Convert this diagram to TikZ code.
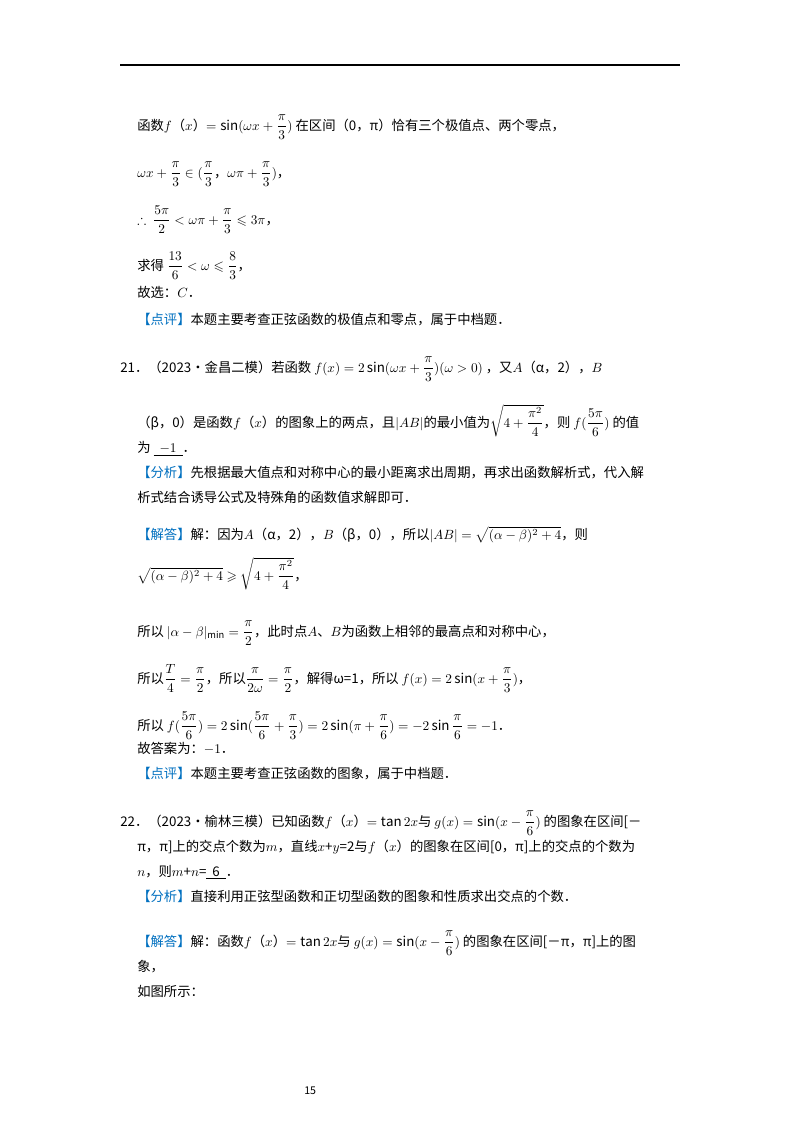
\documentclass[tikz,border=0pt]{standalone}
\usepackage{amsmath,amssymb}
\usepackage{fontspec}
\setmainfont{Noto Sans CJK SC}
\definecolor{tagblue}{RGB}{0,112,192}
\newcommand{\tg}[1]{\textcolor{tagblue}{【#1】}}
\newcommand{\tl}[4]{\node[txt] (#1) at (#2,#3) {#4};}
\begin{document}
\begin{tikzpicture}[x=0.75pt,y=-0.75pt,
  txt/.style={anchor=base west,inner sep=0pt,font=\fontsize{10}{12}\selectfont}]
\useasboundingbox (0,0) rectangle (800,1132);
\fill[white] (0,0) rectangle (800,1132);
\coordinate (r1) at (120,65); \coordinate (r2) at (680,65);
\draw[line width=0.8pt] (r1) -- (r2);
\tl{a1}{137}{130}{函数$f$（$x$）$=\sin(\omega x+\dfrac{\pi}{3})$ 在区间（0，π）恰有三个极值点、两个零点，}
\tl{a2}{137}{177}{$\omega x+\dfrac{\pi}{3}\in(\dfrac{\pi}{3}$，$\omega\pi+\dfrac{\pi}{3})$，}
\tl{a3}{137}{224}{$\therefore\ \dfrac{5\pi}{2}<\omega\pi+\dfrac{\pi}{3}\leqslant 3\pi$，}
\tl{a4}{137}{270}{求得 $\dfrac{13}{6}<\omega\leqslant\dfrac{8}{3}$，}
\tl{a5}{137}{297}{故选：$C$．}
\tl{a6}{137}{324}{\tg{点评}本题主要考查正弦函数的极值点和零点，属于中档题．}
\tl{b1}{120}{372}{21．（2023•金昌二模）若函数 $f(x)=2\sin(\omega x+\dfrac{\pi}{3})(\omega>0)$ ，又$A$（α，2），$B$}
\tl{b2}{137}{427}{（β，0）是函数$f$（$x$）的图象上的两点，且$|AB|$的最小值为$\sqrt{4+\dfrac{\pi^2}{4}}$，则 $f(\dfrac{5\pi}{6})$ 的值}
\tl{b3}{137}{452}{为 \underline{\ \ $-1$\ \ }．}
\tl{b4}{137}{477}{\tg{分析}先根据最大值点和对称中心的最小距离求出周期，再求出函数解析式，代入解}
\tl{b5}{137}{502}{析式结合诱导公式及特殊角的函数值求解即可．}
\tl{b6}{137}{539}{\tg{解答}解：因为$A$（α，2），$B$（β，0），所以$|AB|=\sqrt{(\alpha-\beta)^2+4}$，则}
\tl{b7}{137}{580}{$\sqrt{(\alpha-\beta)^2+4}\geqslant\sqrt{4+\dfrac{\pi^2}{4}}$，}
\tl{b8}{137}{636}{所以 $|\alpha-\beta|_{\min}=\dfrac{\pi}{2}$，此时点$A$、$B$为函数上相邻的最高点和对称中心，}
\tl{b9}{137}{683}{所以$\dfrac{T}{4}=\dfrac{\pi}{2}$，所以$\dfrac{\pi}{2\omega}=\dfrac{\pi}{2}$，解得ω=1，所以 $f(x)=2\sin(x+\dfrac{\pi}{3})$，}
\tl{b10}{137}{730}{所以 $f(\dfrac{5\pi}{6})=2\sin(\dfrac{5\pi}{6}+\dfrac{\pi}{3})=2\sin(\pi+\dfrac{\pi}{6})=-2\sin\dfrac{\pi}{6}=-1$．}
\tl{b11}{137}{753}{故答案为：$-1$．}
\tl{b12}{137}{778}{\tg{点评}本题主要考查正弦函数的图象，属于中档题．}
\tl{c1}{120}{826}{22．（2023•榆林三模）已知函数$f$（$x$）$=\tan2x$与 $g(x)=\sin(x-\dfrac{\pi}{6})$ 的图象在区间[－}
\tl{c2}{137}{851}{π，π]上的交点个数为$m$，直线$x$+$y$=2与$f$（$x$）的图象在区间[0，π]上的交点的个数为}
\tl{c3}{137}{876}{$n$，则$m$+$n$=\underline{\ \ 6\ \ }．}
\tl{c4}{137}{901}{\tg{分析}直接利用正弦型函数和正切型函数的图象和性质求出交点的个数．}
\tl{c5}{137}{946}{\tg{解答}解：函数$f$（$x$）$=\tan2x$与 $g(x)=\sin(x-\dfrac{\pi}{6})$ 的图象在区间[－π，π]上的图}
\tl{c6}{137}{971}{象，}
\tl{c7}{137}{996}{如图所示：}
\node[txt,font=\fontsize{8}{10}\selectfont] (pg) at (304,1094) {15};
\end{tikzpicture}
\end{document}
